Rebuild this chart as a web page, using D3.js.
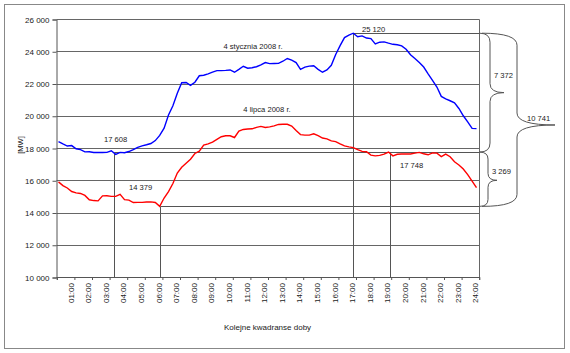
<!DOCTYPE html>
<html>
<head>
<meta charset="utf-8">
<script src="https://cdn.jsdelivr.net/npm/d3@7"></script>
<style>
  body { margin: 0; background: #fff; }
  text { font-family: Arial, 'Liberation Sans', sans-serif; fill: #1a1a1a; }
  .axis path, .axis line { stroke: #555; }
</style>
</head>
<body>
<div class="chart"></div>
<script>
// hour labels under every 4th quarter-hour
const hourLabels = ['01:00', '02:00', '03:00', '04:00', '05:00', '06:00', '07:00', '08:00',
  '09:00', '10:00', '11:00', '12:00', '13:00', '14:00', '15:00', '16:00',
  '17:00', '18:00', '19:00', '20:00', '21:00', '22:00', '23:00', '24:00'];

// 4 stycznia 2008 r. (96 quarter-hours, MW)
const january = [
  18390, 18250, 18120, 18150, 17950, 17900, 17760, 17770, 17720, 17720, 17720, 17730,
  17830, 17608, 17730, 17710, 17780, 17900, 18040, 18130, 18200, 18280, 18460, 18780,
  19230, 20050, 20620, 21400, 22050, 22060, 21880, 22080, 22480, 22510, 22600, 22700,
  22800, 22800, 22815, 22840, 22700, 22880, 23070, 22950, 22980, 23040, 23150, 23300,
  23230, 23240, 23250, 23380, 23550, 23450, 23300, 22880, 23020, 23080, 23100, 22880,
  22700, 22840, 23130, 23800, 24350, 24850, 25000, 25120, 24900, 24950, 24820, 24780,
  24450, 24560, 24580, 24500, 24430, 24400, 24330, 24120, 23780, 23550, 23300, 23020,
  22600, 22200, 21780, 21200, 21050, 20930, 20800, 20450, 20000, 19620, 19220, 19200
];

// 4 lipca 2008 r.
const july = [
  15900, 15670, 15520, 15300, 15220, 15180, 15060, 14790, 14740, 14720, 15030, 15040,
  15000, 15000, 15130, 14800, 14770, 14620, 14630, 14630, 14650, 14660, 14620, 14379,
  14900, 15300, 15800, 16450, 16800, 17050, 17300, 17660, 17800, 18180, 18260, 18370,
  18540, 18700, 18760, 18760, 18650, 19050, 19150, 19180, 19190, 19280, 19340, 19270,
  19310, 19370, 19460, 19470, 19470, 19360, 19080, 18830, 18800, 18800, 18880, 18770,
  18620, 18570, 18440, 18400, 18250, 18130, 18070, 18020, 17900, 17790, 17770, 17560,
  17510, 17540, 17620, 17748, 17510, 17610, 17625, 17625, 17625, 17680, 17730, 17640,
  17580, 17700, 17680, 17470, 17620, 17460, 17150, 16950, 16700, 16350, 15950, 15540
];

const yTicks = [10000, 12000, 14000, 16000, 18000, 20000, 22000, 24000, 26000];

// marked extremes: value and quarter-hour position
const markValues = [17608, 14379, 25120, 17748];
const markLabels = ['17 608', '14 379', '25 120', '17 748'];
const markAt = [13.7, 24, 67.9, 76.4];

// braces: from value, to value, label
const braceFrom = [25120, 17748, 25120];
const braceTo = [17748, 14379, 14379];
const braceLabels = ['7 372', '3 269', '10 741'];

const width = 570;
const height = 353;

const svg = d3
  .select('.chart')
  .append('svg')
  .attr('width', width)
  .attr('height', height);

// outer frame
svg.append('rect')
  .attr('x', 4.5).attr('y', 4.5)
  .attr('width', 560).attr('height', 344)
  .attr('fill', '#fff')
  .attr('stroke', '#888');

const xScale = d3.scaleLinear().domain([0, 96]).range([56.3, 478.7]);
const yScale = d3.scaleLinear().domain([10000, 26000]).range([277, 19]);
const crisp = (v) => Math.round(v) + 0.5;

const plotLeft = 56.5;
const plotRight = 479.5;

// gridlines
svg.append('g')
  .selectAll('line')
  .data(yTicks)
  .join('line')
  .attr('x1', plotLeft)
  .attr('x2', plotRight)
  .attr('y1', (d) => crisp(yScale(d)))
  .attr('y2', (d) => crisp(yScale(d)))
  .attr('stroke', '#666');

// right border of plot
svg.append('line')
  .attr('x1', plotRight).attr('x2', plotRight)
  .attr('y1', crisp(yScale(26000))).attr('y2', crisp(yScale(10000)))
  .attr('stroke', '#666');

// y axis
const yAxis = d3.axisLeft(yScale)
  .tickValues(yTicks)
  .tickSize(4)
  .tickPadding(3)
  .tickFormat((d) => d3.format(',')(d).replace(',', ' '));
svg.append('g')
  .attr('class', 'axis y-axis')
  .attr('transform', `translate(${plotLeft},0.5)`)
  .call(yAxis)
  .call((g) => g.selectAll('text').attr('font-size', '8px').attr('font-family', 'Arial, Liberation Sans, sans-serif'));

// x axis with ticks between every 4 quarters
const xAxis = d3.axisBottom(xScale)
  .tickValues(d3.range(0, 97, 4))
  .tickSize(3)
  .tickFormat('');
svg.append('g')
  .attr('class', 'axis x-axis')
  .attr('transform', `translate(0.5,${crisp(yScale(10000)) - 0.5})`)
  .call(xAxis);

// hour labels, rotated
svg.append('g')
  .selectAll('text')
  .data(hourLabels)
  .join('text')
  .attr('transform', (d, i) => `translate(${xScale(i * 4 + 3.5) - 1},283) rotate(-90)`)
  .attr('text-anchor', 'end')
  .attr('dy', '0.35em')
  .attr('font-size', '8px')
  .text((d) => d);

// annotation lines
const annot = svg.append('g').attr('stroke', '#555').attr('fill', 'none');
const xBottom = crisp(yScale(10000));
// verticals
annot.selectAll('line.v')
  .data(markValues)
  .join('line')
  .attr('class', 'v')
  .attr('x1', (d, i) => crisp(xScale(markAt[i] - 0.5)))
  .attr('x2', (d, i) => crisp(xScale(markAt[i] - 0.5)))
  .attr('y1', (d, i) => crisp(yScale(i === 0 ? 17748 : d)))
  .attr('y2', xBottom);
// horizontals to the right edge
const hLines = [
  { from: markAt[2], value: 25120 },
  { from: markAt[0], value: 17748 },
  { from: markAt[1], value: 14379 }
];
annot.selectAll('line.h')
  .data(hLines)
  .join('line')
  .attr('class', 'h')
  .attr('x1', (d) => crisp(xScale(d.from - 0.5)))
  .attr('x2', plotRight)
  .attr('y1', (d) => crisp(yScale(d.value)))
  .attr('y2', (d) => crisp(yScale(d.value)));

// braces
const braceGeom = [
  { x0: 479.5, xs: 490, xt: 504, r: 9, tip: 0.5 },
  { x0: 479.5, xs: 488, xt: 497, r: 7, tip: 0.52 },
  { x0: 482, xs: 517, xt: 555, r: 12, tip: 0.53 }
];
function bracePath(g, y0, y1) {
  const ym = y0 + (y1 - y0) * g.tip;
  const p = d3.path();
  p.moveTo(g.x0, y0);
  p.quadraticCurveTo(g.xs, y0, g.xs, y0 + g.r);
  p.lineTo(g.xs, ym - g.r);
  p.quadraticCurveTo(g.xs, ym, g.xt, ym);
  p.quadraticCurveTo(g.xs, ym, g.xs, ym + g.r);
  p.lineTo(g.xs, y1 - g.r);
  p.quadraticCurveTo(g.xs, y1, g.x0, y1);
  return p.toString();
}
annot.selectAll('path.brace')
  .data(braceLabels)
  .join('path')
  .attr('class', 'brace')
  .attr('d', (d, i) => bracePath(braceGeom[i], yScale(braceFrom[i]), yScale(braceTo[i])));

const braceText = [[494, 78], [492, 174], [527, 121]];
svg.append('g')
  .selectAll('text')
  .data(braceLabels)
  .join('text')
  .attr('x', (d, i) => braceText[i][0])
  .attr('y', (d, i) => braceText[i][1])
  .attr('font-size', '7.6px')
  .text((d) => d);

// series lines
const line = d3.line()
  .x((d, i) => xScale(i + 0.5))
  .y((d) => yScale(d));

svg.append('path')
  .datum(january)
  .attr('fill', 'none')
  .attr('stroke', '#0000ff')
  .attr('stroke-width', 1.4)
  .attr('d', line);

svg.append('path')
  .datum(july)
  .attr('fill', 'none')
  .attr('stroke', '#ff0000')
  .attr('stroke-width', 1.4)
  .attr('d', line);

// value labels
const markText = [[104, 142], [129, 190], [362, 32], [400, 167.5]];
svg.append('g')
  .selectAll('text')
  .data(markLabels)
  .join('text')
  .attr('x', (d, i) => markText[i][0])
  .attr('y', (d, i) => markText[i][1])
  .attr('font-size', '7.6px')
  .text((d) => d);

// series titles
svg.append('text').attr('x', 253).attr('y', 49).attr('text-anchor', 'middle')
  .attr('font-size', '7.6px').text('4 stycznia 2008 r.');
svg.append('text').attr('x', 267).attr('y', 111.5).attr('text-anchor', 'middle')
  .attr('font-size', '7.6px').text('4 lipca 2008 r.');

// axis titles
svg.append('text')
  .attr('transform', 'translate(20,145) rotate(-90)')
  .attr('text-anchor', 'middle')
  .attr('dy', '0.35em')
  .attr('font-size', '7.6px')
  .text('[MW]');
svg.append('text')
  .attr('x', 267.5).attr('y', 330)
  .attr('text-anchor', 'middle')
  .attr('font-size', '8px')
  .text('Kolejne kwadranse doby');
</script>
</body>
</html>
